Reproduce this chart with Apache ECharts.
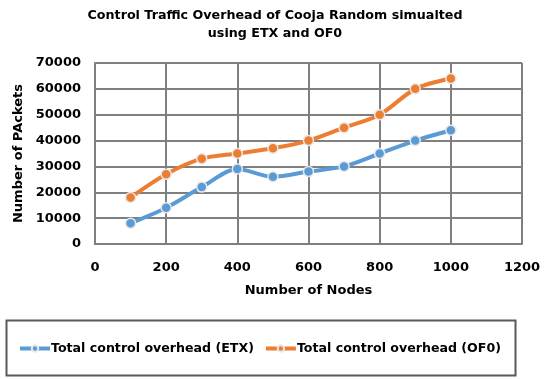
<!DOCTYPE html>
<html><head><meta charset="utf-8">
<script src="https://cdn.jsdelivr.net/npm/echarts@6/dist/echarts.min.js"></script>
<style>html,body{margin:0;padding:0;background:#fff}#c{width:550px;height:379px}</style>
</head><body><div id="c"></div>
<script>
const nodes = [100, 200, 300, 400, 500, 600, 700, 800, 900, 1000];
const etx = [8000, 14000, 22000, 29000, 26000, 28000, 30000, 35000, 40000, 44000];
const of0 = [18000, 27000, 33000, 35000, 37000, 40000, 45000, 50000, 60000, 64000];
const seriesNames = ['Total control overhead (ETX)', 'Total control overhead (OF0)'];
const titleText = 'Control Traffic Overhead of Cooja Random simualted\nusing ETX and OF0';

const font = 'DejaVu Sans';
const gridColor = '#7f7f7f';
const chart = echarts.init(document.getElementById('c'));
function mk(name, vals, color) {
  return {
    name, type: 'line', smooth: 0.3,
    data: nodes.map((n, i) => [n, vals[i]]),
    symbol: 'circle', symbolSize: 10,
    lineStyle: { color, width: 4 },
    itemStyle: { color, borderColor: '#e8e8e8', borderWidth: 1.5 },
    z: 3
  };
}
chart.setOption({
  animation: false,
  backgroundColor: '#fff',
  title: {
    text: titleText, left: 'center', top: 2,
    textStyle: { fontFamily: font, fontWeight: 'bold', fontSize: 12.7, lineHeight: 18, color: '#000' }
  },
  grid: { left: 95, right: 28, top: 63, bottom: 135 },
  xAxis: {
    type: 'value', min: 0, max: 1200, interval: 200,
    name: 'Number of Nodes', nameLocation: 'middle', nameGap: 40,
    nameTextStyle: { fontFamily: font, fontWeight: 'bold', fontSize: 13, color: '#000' },
    axisLine: { lineStyle: { color: gridColor, width: 2 } },
    axisTick: { show: false },
    axisLabel: { fontFamily: font, fontWeight: 'bold', fontSize: 13, color: '#000', margin: 17, formatter: v => String(v) },
    splitLine: { show: true, lineStyle: { color: gridColor, width: 2 } }
  },
  yAxis: {
    type: 'value', min: 0, max: 70000, interval: 10000,
    name: 'Number of PAckets', nameLocation: 'middle', nameGap: 66,
    nameTextStyle: { fontFamily: font, fontWeight: 'bold', fontSize: 13, color: '#000' },
    axisLine: { show: true, lineStyle: { color: gridColor, width: 2 } },
    axisTick: { show: false },
    axisLabel: { fontFamily: font, fontWeight: 'bold', fontSize: 13, color: '#000', margin: 14, formatter: v => String(v) },
    splitLine: { show: true, lineStyle: { color: gridColor, width: 2 } }
  },
  legend: {
    left: 13, top: 337, itemGap: 10, itemWidth: 30, itemHeight: 8,
    data: seriesNames,
    lineStyle: { width: 4 },
    textStyle: { fontFamily: font, fontWeight: 'bold', fontSize: 12.6, color: '#000', padding: [0, 0, 0, -4] }
  },
  graphic: [{
    type: 'rect', left: 4, top: 318,
    shape: { width: 509, height: 55 },
    style: { fill: 'none', stroke: '#595959', lineWidth: 2 }
  }],
  series: [mk(seriesNames[0], etx, '#5b9bd5'), mk(seriesNames[1], of0, '#ed7d31')]
});
</script></body></html>
